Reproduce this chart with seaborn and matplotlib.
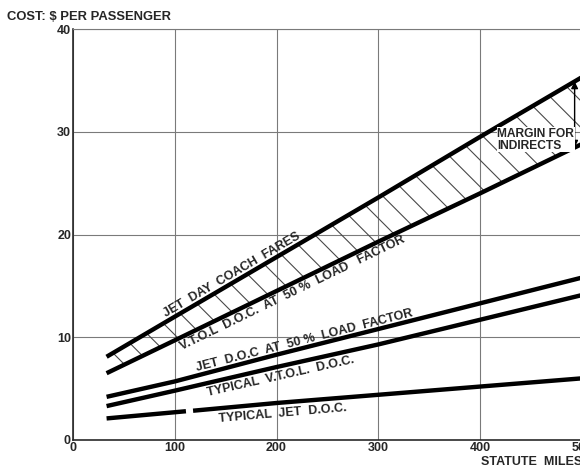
import numpy as np
import matplotlib
matplotlib.use("Agg")
import matplotlib.pyplot as plt
import seaborn as sns

# ---------------- data ----------------
miles = [33, 100, 200, 300, 400, 500]
coach_fares = [8.1, 12.0, 17.8, 23.6, 29.5, 35.3]          # Jet day coach fares
vtol_doc_50 = [6.5, 9.7, 14.5, 19.3, 24.0, 28.8]            # V.T.O.L D.O.C. at 50% LF
jet_doc_50 = [4.2, 5.7, 8.3, 10.8, 13.3, 15.8]              # Jet D.O.C at 50% LF
typ_vtol_doc = [3.3, 4.8, 7.1, 9.3, 11.7, 14.1]             # Typical V.T.O.L. D.O.C.
typ_jet_miles_a = [33, 111]
typ_jet_doc_a = [2.1, 2.8]
typ_jet_miles_b = [118, 200, 300, 400, 500]
typ_jet_doc_b = [2.85, 3.6, 4.4, 5.2, 6.0]

x_ticks = [0, 100, 200, 300, 400, 500]
y_ticks = [0, 10, 20, 30, 40]

label_coach = "JET  DAY  COACH  FARES"
label_vtol50 = "V.T.O.L  D.O.C.  AT  50 %  LOAD   FACTOR"
label_jet50 = "JET  D.O.C  AT  50 %  LOAD  FACTOR"
label_typvtol = "TYPICAL  V.T.O.L.  D.O.C."
label_typjet = "TYPICAL  JET  D.O.C."
y_title = "COST: $ PER PASSENGER"
x_title = "STATUTE  MILES"
margin_text = "MARGIN FOR\nINDIRECTS"

# ---------------- styling ----------------
DPI = 160
W, H = 580, 466


def pt(px):
    return px * 72.0 / DPI


sns.set_style("white")
plt.rcParams["font.family"] = ["Liberation Sans", "DejaVu Sans"]
plt.rcParams["hatch.linewidth"] = pt(1.1)

fig = plt.figure(figsize=(W / DPI, H / DPI), dpi=DPI)
fig.patch.set_facecolor("white")
ax = fig.add_axes([73 / W, 26 / H, 508.75 / W, 411 / H])

LW = pt(4.4)
FS = pt(12.5)

# hatched margin between coach fares and VTOL DOC
ax.fill_between(miles, vtol_doc_50, coach_fares, facecolor="none",
                edgecolor="#484848", hatch="\\\\", linewidth=0, zorder=2)

for xs, ys in [(miles, coach_fares), (miles, vtol_doc_50), (miles, jet_doc_50),
               (miles, typ_vtol_doc), (typ_jet_miles_a, typ_jet_doc_a),
               (typ_jet_miles_b, typ_jet_doc_b)]:
    sns.lineplot(x=xs, y=ys, ax=ax, color="black", linewidth=LW,
                 solid_capstyle="butt", zorder=4)

ax.set_xlim(0, 500)
ax.set_ylim(0, 40)
ax.set_xticks(x_ticks)
ax.set_yticks(y_ticks)
ax.set_xticklabels([str(v) for v in x_ticks], fontsize=pt(12.5), fontweight="bold")
ax.set_yticklabels([str(v) for v in y_ticks], fontsize=pt(12.5), fontweight="bold")
ax.tick_params(axis="both", length=0, pad=pt(2))
ax.grid(True, color="#7a7a7a", linewidth=pt(1.1), zorder=0)
ax.set_axisbelow(True)
for side in ["left", "bottom"]:
    ax.spines[side].set_color("#222222")
    ax.spines[side].set_linewidth(pt(1.6))
ax.spines["top"].set_color("#7a7a7a")
ax.spines["top"].set_linewidth(pt(1.1))
ax.spines["right"].set_visible(False)
ax.set_xlabel("")
ax.set_ylabel("")

# line labels, rotated along their line
all_x = typ_jet_miles_a + typ_jet_miles_b
all_y = typ_jet_doc_a + typ_jet_doc_b
labels = [
    (label_coach, miles, coach_fares, 156, 0.85),
    (label_vtol50, miles, vtol_doc_50, 216, -0.95),
    (label_jet50, miles, jet_doc_50, 227, 0.7),
    (label_typvtol, miles, typ_vtol_doc, 204, -1.0),
    (label_typjet, all_x, all_y, 206, -1.05),
]
for text, xs, ys, xc, dy in labels:
    x0, x1 = xc - 40, xc + 40
    slope = (np.interp(x1, xs, ys) - np.interp(x0, xs, ys)) / (x1 - x0)
    ang = np.degrees(np.arctan(slope))
    ax.text(xc, np.interp(xc, xs, ys) + dy, text, fontsize=FS, fontweight="bold",
            rotation=ang, transform_rotates_text=True, rotation_mode="anchor",
            ha="center", va="center", zorder=6)

# margin arrow + text
xa = 493
ax.annotate("", xy=(xa, np.interp(xa, miles, vtol_doc_50)),
            xytext=(xa, np.interp(xa, miles, coach_fares)),
            arrowprops=dict(arrowstyle="<|-|>", color="black", lw=pt(1.4),
                            mutation_scale=pt(14), shrinkA=0, shrinkB=0),
            zorder=5)
ax.text(417, 29.2, margin_text, fontsize=pt(12), fontweight="bold",
        ha="left", va="center", linespacing=0.95, zorder=6,
        bbox=dict(facecolor="white", edgecolor="none", pad=0.3))

fig.text(7 / W, 1 - 17 / H, y_title, fontsize=pt(13), fontweight="bold",
         ha="left", va="center")
fig.text(582 / W, 1 - 462 / H, x_title, fontsize=FS, fontweight="bold",
         ha="right", va="center")

fig.savefig("out.png", dpi=DPI, facecolor="white")
